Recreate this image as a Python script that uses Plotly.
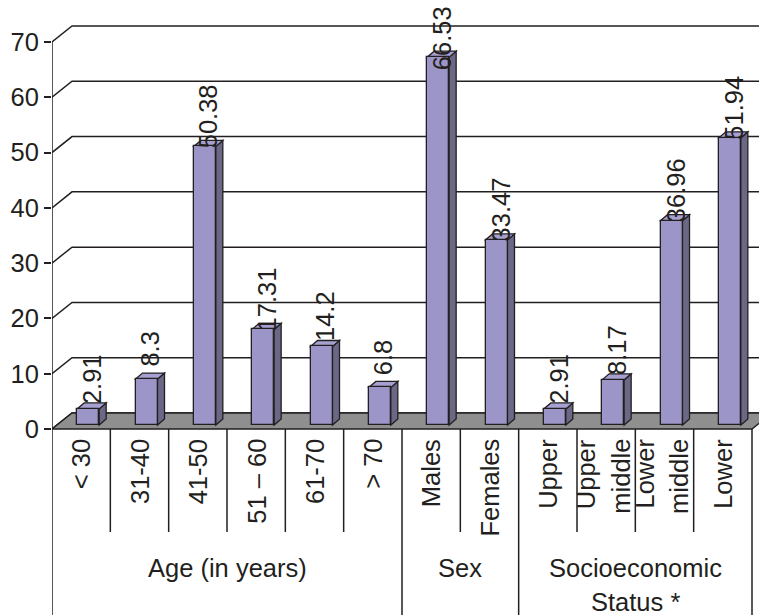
import plotly.graph_objects as go

# ---------------- data ----------------
categories = ["< 30", "31-40", "41-50", "51 – 60", "61-70", "> 70",
              "Males", "Females",
              "Upper", "Upper<br>middle", "Lower<br>middle", "Lower"]
values = [2.91, 8.3, 50.38, 17.31, 14.2, 6.8, 66.53, 33.47, 2.91, 8.17, 36.96, 51.94]
value_labels = ["2.91", "8.3", "50.38", "17.31", "14.2", "6.8",
                "66.53", "33.47", "2.91", "8.17", "36.96", "51.94"]
groups = ["Age (in years)", "Sex", "Socioeconomic<br>Status *"]
group_sizes = [6, 2, 4]
y_ticks = [0, 10, 20, 30, 40, 50, 60, 70]

# ---------------- styling / geometry ----------------
W, H = 759, 615
LEFT = 52            # px where the front value axis sits
PX_PER_CAT = 58.333  # px per category column
Y0_PX = 429          # px of value 0
PX_PER_UNIT = 5.529  # px per value unit

def dxu(px):
    return px / PX_PER_CAT

def dyu(px):
    return px / PX_PER_UNIT

def ypx(px):
    """value at a given pixel row"""
    return (Y0_PX - px) / PX_PER_UNIT

INK = "#231F20"
FRONT = "#9C96C8"
SIDE = "#6B6887"
TOP = "#A7A1D1"
FLOOR = "#8F8F8F"
FONT = "Liberation Sans, Arial, sans-serif"
FS = 25.5

n = len(categories)
XMAX = (W - LEFT) / PX_PER_CAT
YMAX = ypx(0)
YMIN = ypx(H)

WALL_DX, WALL_DY = dxu(20), dyu(16)      # depth of the back wall
BAR_DX, BAR_DY = dxu(7), dyu(6)          # depth of each bar
BAR_W = dxu(22)
BAR_OFF = 0.62
BASE = dyu(4)
LABEL_GAP = dyu(30)         # label centre above bar top
LABEL_CENTER_MAX = ypx(38)  # keep labels inside the chart
CAT_LINE_SP = 34            # px between lines of rotated category labels
GRP_LINE_SP = 34            # px between lines of group labels

xc = [i + BAR_OFF for i in range(n)]

fig = go.Figure()
fig.add_trace(go.Bar(
    x=xc, y=values, base=BASE, width=BAR_W,
    marker=dict(color=FRONT, line=dict(color=INK, width=1.3)),
    hoverinfo="skip", showlegend=False,
))

shapes = []
# back wall grid lines with diagonal connectors
for v in y_ticks:
    shapes.append(dict(
        type="path", layer="below", xref="x", yref="y",
        path=f"M 0,{v} L {WALL_DX},{v + WALL_DY} L {XMAX},{v + WALL_DY}",
        line=dict(color=INK, width=1.5),
    ))
# floor
shapes.append(dict(
    type="path", layer="below", xref="x", yref="y",
    path=f"M 0,0 L {n},0 L {n + WALL_DX},{WALL_DY} L {WALL_DX},{WALL_DY} Z",
    fillcolor=FLOOR, line=dict(color=INK, width=1.5),
))
# 3D sides and tops of bars
for x, v in zip(xc, values):
    xl, xr = x - BAR_W / 2, x + BAR_W / 2
    top = BASE + v
    shapes.append(dict(
        type="path", layer="below", xref="x", yref="y",
        path=f"M {xr},{BASE} L {xr},{top} L {xr + BAR_DX},{top + BAR_DY} L {xr + BAR_DX},{BASE + BAR_DY} Z",
        fillcolor=SIDE, line=dict(color=INK, width=1.3),
    ))
    shapes.append(dict(
        type="path", layer="below", xref="x", yref="y",
        path=f"M {xl},{top} L {xr},{top} L {xr + BAR_DX},{top + BAR_DY} L {xl + BAR_DX},{top + BAR_DY} Z",
        fillcolor=TOP, line=dict(color=INK, width=1.3),
    ))

# front value axis line (continues down as first group separator)
shapes.append(dict(type="line", xref="x", yref="y", x0=0, x1=0, y0=y_ticks[-1], y1=YMIN,
                   line=dict(color=INK, width=1.5)))

# category separators
boundaries = [0]
for s in group_sizes:
    boundaries.append(boundaries[-1] + s)
SUB_BOTTOM = ypx(532)
for k in range(1, n + 1):
    y1 = YMIN if k in boundaries else SUB_BOTTOM
    shapes.append(dict(type="line", xref="x", yref="y", x0=k, x1=k, y0=0, y1=y1,
                       line=dict(color=INK, width=1.5)))

annotations = []
# value labels
for x, v, t in zip(xc, values, value_labels):
    annotations.append(dict(
        x=x + dxu(4), y=min(BASE + v + LABEL_GAP, LABEL_CENTER_MAX), xref="x", yref="y",
        text=t, textangle=-90, showarrow=False,
        xanchor="center", yanchor="middle",
        font=dict(family=FONT, size=FS, color=INK),
    ))
# category labels (rotated; multi-line labels placed line by line)
for i, c in enumerate(categories):
    lines = c.split("<br>")
    m = len(lines)
    for k, line in enumerate(lines):
        off = (k - (m - 1) / 2) * CAT_LINE_SP - (3 if m > 1 else 0)
        annotations.append(dict(
            x=i + 0.5 + dxu(off), y=ypx(437), xref="x", yref="y",
            text=line, textangle=-90, showarrow=False,
            xanchor="center", yanchor="top",
            font=dict(family=FONT, size=FS, color=INK),
        ))
# group labels (each line placed separately for the wider line spacing)
for g, a, b in zip(groups, boundaries[:-1], boundaries[1:]):
    for k, line in enumerate(g.split("<br>")):
        annotations.append(dict(
            x=(a + b) / 2, y=ypx(568 + GRP_LINE_SP * k), xref="x", yref="y",
            text=line, showarrow=False, align="center",
            xanchor="center", yanchor="middle", borderpad=0,
            font=dict(family=FONT, size=FS, color=INK),
        ))

fig.update_layout(
    width=W, height=H,
    margin=dict(l=LEFT, r=0, t=0, b=0),
    paper_bgcolor="white", plot_bgcolor="white",
    shapes=shapes, annotations=annotations,
    xaxis=dict(range=[0, XMAX], visible=False, fixedrange=True),
    yaxis=dict(range=[YMIN, YMAX], tickvals=y_ticks, ticks="outside", ticklen=7,
               tickwidth=1.5, tickcolor=INK, showgrid=False, zeroline=False,
               showline=False, tickfont=dict(family=FONT, size=FS, color=INK),
               fixedrange=True),
    bargap=0,
)

fig.write_html("out.html")
